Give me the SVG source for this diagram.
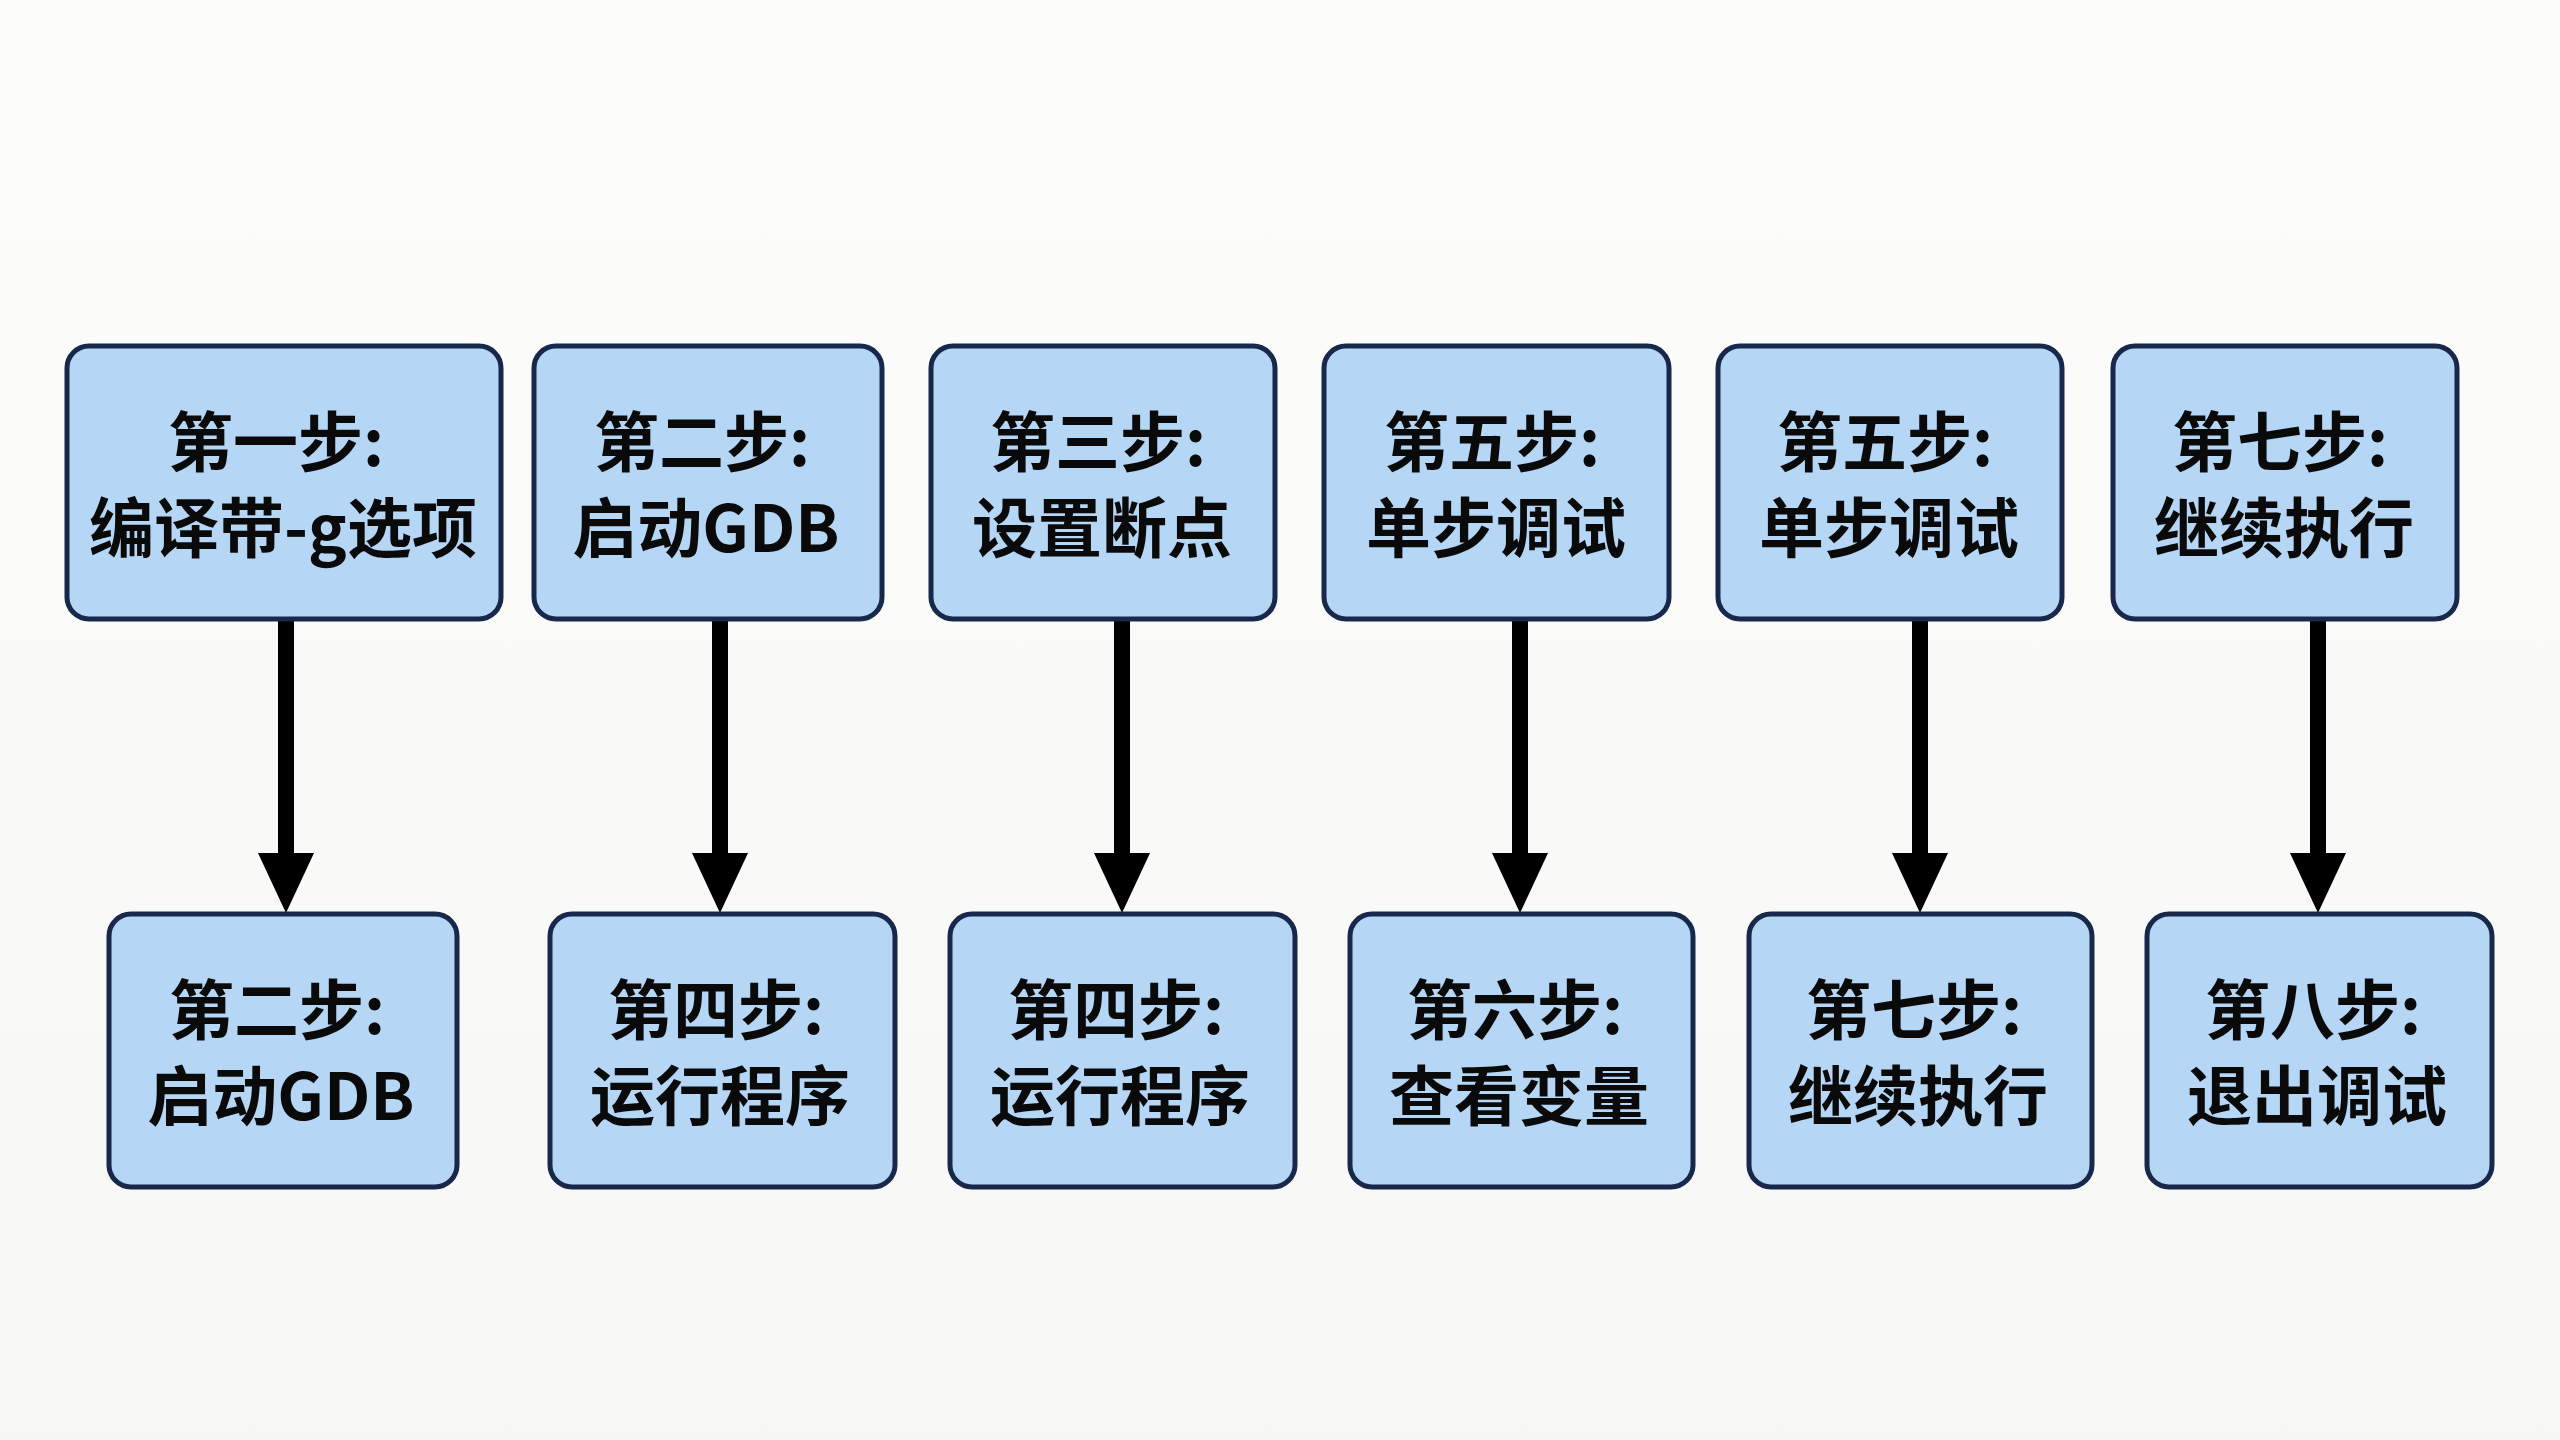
<svg xmlns="http://www.w3.org/2000/svg" width="2560" height="1440" viewBox="0 0 2560 1440">
<defs>
<style>
.box{fill:#b6d6f6;stroke:#17284a;stroke-width:5}
.t{font-family:"Noto Sans CJK SC","Noto Sans",sans-serif;font-weight:bold;font-size:65px;fill:#0a0a0a;text-anchor:middle;dominant-baseline:central}
.ln{stroke:#000;stroke-width:16;fill:none}
.hd{fill:#000}
</style>
<linearGradient id="bg" x1="0" y1="0" x2="0" y2="1">
<stop offset="0" stop-color="#fcfcfa"/>
<stop offset="1" stop-color="#f7f7f6"/>
</linearGradient>
</defs>
<rect x="0" y="0" width="2560" height="1440" fill="url(#bg)"/>
<g id="connectors">
<line class="ln" x1="286" y1="619" x2="286" y2="860"/><polygon class="hd" points="258,853 314,853 286,913"/>
<line class="ln" x1="720" y1="619" x2="720" y2="860"/><polygon class="hd" points="692,853 748,853 720,913"/>
<line class="ln" x1="1122" y1="619" x2="1122" y2="860"/><polygon class="hd" points="1094,853 1150,853 1122,913"/>
<line class="ln" x1="1520" y1="619" x2="1520" y2="860"/><polygon class="hd" points="1492,853 1548,853 1520,913"/>
<line class="ln" x1="1920" y1="619" x2="1920" y2="860"/><polygon class="hd" points="1892,853 1948,853 1920,913"/>
<line class="ln" x1="2318" y1="619" x2="2318" y2="860"/><polygon class="hd" points="2290,853 2346,853 2318,913"/>
</g>
<g id="n1"><rect class="box" x="67" y="346" width="434" height="273" rx="22"/><text class="t" x="276" y="438">第一步:</text><text class="t" x="283" y="524">编译带-g选项</text></g>
<g id="n2"><rect class="box" x="534" y="346" width="348" height="273" rx="22"/><text class="t" x="702" y="438">第二步:</text><text class="t" x="706" y="524">启动GDB</text></g>
<g id="n3"><rect class="box" x="931" y="346" width="344" height="273" rx="22"/><text class="t" x="1098" y="438">第三步:</text><text class="t" x="1102" y="524">设置断点</text></g>
<g id="n4"><rect class="box" x="1324" y="346" width="345" height="273" rx="22"/><text class="t" x="1492" y="438">第五步:</text><text class="t" x="1496" y="524">单步调试</text></g>
<g id="n5"><rect class="box" x="1718" y="346" width="344" height="273" rx="22"/><text class="t" x="1885" y="438">第五步:</text><text class="t" x="1889" y="524">单步调试</text></g>
<g id="n6"><rect class="box" x="2113" y="346" width="344" height="273" rx="22"/><text class="t" x="2280" y="438">第七步:</text><text class="t" x="2284" y="524">继续执行</text></g>
<g id="n7"><rect class="box" x="109" y="914" width="348" height="273" rx="22"/><text class="t" x="277" y="1006">第二步:</text><text class="t" x="281" y="1092">启动GDB</text></g>
<g id="n8"><rect class="box" x="550" y="914" width="345" height="273" rx="22"/><text class="t" x="716" y="1006">第四步:</text><text class="t" x="720" y="1092">运行程序</text></g>
<g id="n9"><rect class="box" x="950" y="914" width="345" height="273" rx="22"/><text class="t" x="1116" y="1006">第四步:</text><text class="t" x="1120" y="1092">运行程序</text></g>
<g id="n10"><rect class="box" x="1350" y="914" width="343" height="273" rx="22"/><text class="t" x="1515" y="1006">第六步:</text><text class="t" x="1519" y="1092">查看变量</text></g>
<g id="n11"><rect class="box" x="1749" y="914" width="343" height="273" rx="22"/><text class="t" x="1914" y="1006">第七步:</text><text class="t" x="1918" y="1092">继续执行</text></g>
<g id="n12"><rect class="box" x="2147" y="914" width="345" height="273" rx="22"/><text class="t" x="2313" y="1006">第八步:</text><text class="t" x="2317" y="1092">退出调试</text></g>
</svg>
